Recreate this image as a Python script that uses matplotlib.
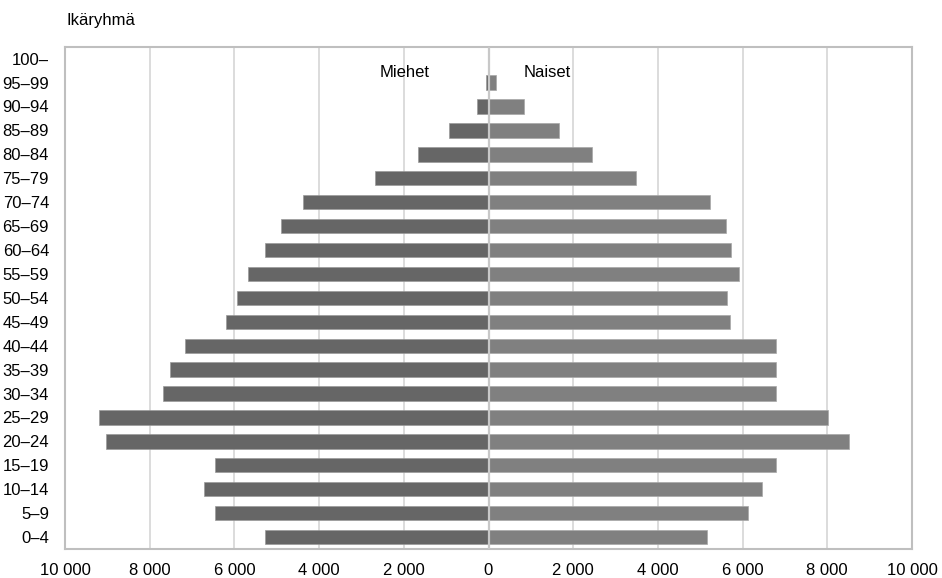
import matplotlib
matplotlib.use("Agg")
import matplotlib.pyplot as plt
import numpy as np

plt.rcParams['font.family'] = ['Liberation Sans', 'DejaVu Sans']

age_groups = ["0–4", "5–9", "10–14", "15–19", "20–24", "25–29", "30–34", "35–39",
              "40–44", "45–49", "50–54", "55–59", "60–64", "65–69", "70–74",
              "75–79", "80–84", "85–89", "90–94", "95–99", "100–"]
men = [5270, 6450, 6720, 6450, 9040, 9190, 7680, 7510, 7160, 6200, 5930,
       5680, 5270, 4900, 4380, 2680, 1660, 930, 280, 60, 0]
women = [5160, 6120, 6460, 6790, 8510, 8020, 6790, 6790, 6790, 5700, 5630,
         5920, 5720, 5600, 5230, 3480, 2450, 1660, 840, 180, 0]
xticks = [-10000, -8000, -6000, -4000, -2000, 0, 2000, 4000, 6000, 8000, 10000]
xticklabels = ["10 000", "8 000", "6 000", "4 000", "2 000", "0",
               "2 000", "4 000", "6 000", "8 000", "10 000"]

fig = plt.figure(figsize=(9.42, 5.78), dpi=100)
ax = fig.add_axes([65/942, 1 - 549/578, (912-65)/942, (549-46.7)/578])

y = np.arange(len(age_groups))
ax.barh(y, -np.array(men), height=0.6, color="#666666", edgecolor="#9a9a9a",
        linewidth=0.5, zorder=2)
ax.barh(y, women, height=0.6, color="#808080", edgecolor="#a8a8a8",
        linewidth=0.5, zorder=2)
ax.axvline(0, color="#c8c8c8", linewidth=1.6, zorder=3)

ax.set_xlim(-10000, 10000)
ax.set_ylim(-0.5, len(age_groups) - 0.5)
ax.set_xticks(xticks)
ax.set_xticklabels(xticklabels)
ax.set_yticks(y)
ax.set_yticklabels(age_groups)
ax.tick_params(axis='both', length=0, labelsize=12, colors="#000000")
ax.tick_params(axis='y', pad=11.5)
ax.tick_params(axis='x', pad=10)
ax.grid(axis='x', color="#d9d9d9", linewidth=1.3, zorder=1)
ax.set_axisbelow(True)
for s in ax.spines.values():
    s.set_color("#bfbfbf")
    s.set_linewidth(1.5)

ax.text(-1390, 19.43, "Miehet", ha="right", va="center", fontsize=12, zorder=4)
ax.text(830, 19.43, "Naiset", ha="left", va="center", fontsize=12, zorder=4)

fig.text(67/942, 1 - 20/578, "Ikäryhmä", ha="left", va="center", fontsize=12)

fig.savefig("out.png", dpi=100)
